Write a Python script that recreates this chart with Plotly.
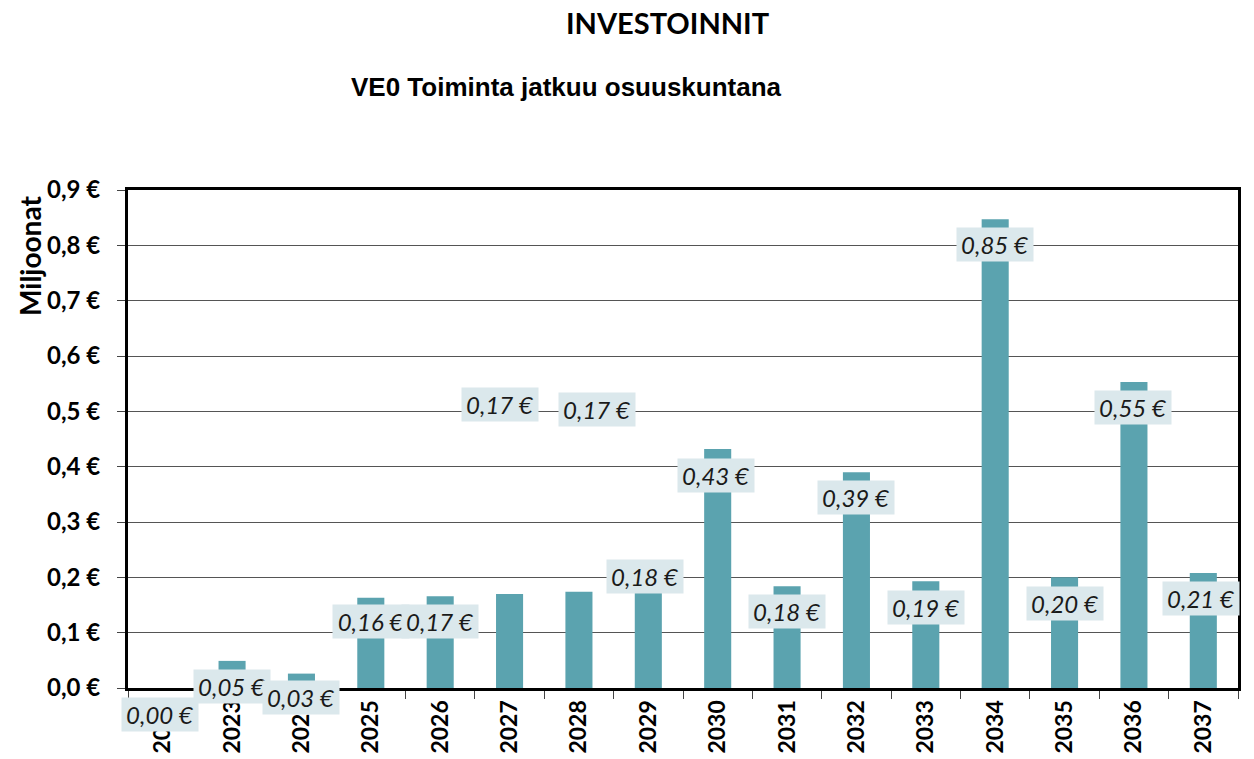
import plotly.graph_objects as go

years = ["2022", "2023", "2024", "2025", "2026", "2027", "2028", "2029",
         "2030", "2031", "2032", "2033", "2034", "2035", "2036", "2037"]
investments = [0.0, 0.049, 0.026, 0.163, 0.166, 0.170, 0.174, 0.178,
               0.432, 0.184, 0.390, 0.193, 0.847, 0.200, 0.553, 0.208]
# label offsets (pixels, up = positive) relative to the bar top, as placed in the original
label_dy = [-26, -26, -24, -24, -25, 189, 182, 13,
            -27, -25, -25, -26, -25, -26, -25, -26]
label_dx = [-3, 0, 0, 0, 0, -10, 18, -3, -2, 0, 0, 0, 0, 0, -1, -2]

y_ticks = [0.0, 0.1, 0.2, 0.3, 0.4, 0.5, 0.6, 0.7, 0.8, 0.9]
y_ticktext = [f"{v:.1f}".replace(".", ",") + " €" for v in y_ticks]

BAR = "#5ba3af"
LBL_BG = "#dbe8ec"

# page body has an 8px margin; figure is shrunk/offset to compensate
OFF = 8
PL, PT, PR, PB = 128, 190, 1238, 688  # plot area in screenshot pixels
W, H = 1254 - OFF, 759 - OFF

fig = go.Figure()
fig.add_trace(go.Bar(x=years, y=investments, marker=dict(color=BAR, line=dict(width=0)),
                     hoverinfo="x+y"))

for i, (v, dy, dx) in enumerate(zip(investments, label_dy, label_dx)):
    fig.add_annotation(
        x=i, y=v, xref="x", yref="y", yanchor="middle", xanchor="center",
        text=f"{v:.2f}".replace(".", ",") + " €",
        showarrow=False, yshift=dy, xshift=dx,
        font=dict(family="Lato", size=24, color="#1a1a1a", style="italic"),
        bgcolor=LBL_BG, width=74, height=31, borderpad=1,
    )

cx = (PL + PR) / 2
fig.add_annotation(text="<b>INVESTOINNIT</b>", xref="paper", yref="paper",
                   x=0.5, y=1, xanchor="center", yanchor="middle",
                   xshift=(667 - cx), yshift=(PT - 22), showarrow=False,
                   font=dict(family="Lato", size=29, color="black"))
fig.add_annotation(text="<b>VE0 Toiminta jatkuu osuuskuntana</b>", xref="paper", yref="paper",
                   x=0, y=1, xanchor="center", yanchor="middle",
                   xshift=(566 - PL), yshift=(PT - 87), showarrow=False,
                   font=dict(family="Liberation Sans", size=26, color="black"))
fig.add_annotation(text="<b>Miljoonat</b>", xref="paper", yref="paper",
                   x=0, y=1, xanchor="center", yanchor="middle", textangle=-90,
                   xshift=(30 - PL), yshift=(PT - 256), showarrow=False,
                   font=dict(family="Lato", size=28, color="black"))

fig.update_layout(
    width=W, height=H,
    margin=dict(l=PL - OFF, r=W - (PR - OFF), t=PT - OFF, b=H - (PB - OFF), autoexpand=False),
    paper_bgcolor="white", plot_bgcolor="white",
    showlegend=False, bargap=0.61,
    xaxis=dict(type="category", tickangle=-90, tickson="boundaries",
               range=[-0.5, len(years) - 0.5], automargin=False,
               ticks="outside", ticklen=8, tickcolor="#444", tickwidth=1,
               tickfont=dict(family="Lato", size=23, color="black", weight="bold"),
               showline=True, linecolor="black", linewidth=3, mirror=True,
               showgrid=False),
    yaxis=dict(range=[0, 0.9], tickvals=y_ticks, ticktext=y_ticktext, automargin=False,
               ticks="outside", ticklen=8, tickcolor="#444", tickwidth=1,
               ticklabelstandoff=12,
               tickfont=dict(family="Lato", size=24, color="black", weight="bold"),
               showline=True, linecolor="black", linewidth=3, mirror=True,
               showgrid=True, gridcolor="#555", gridwidth=1, zeroline=False),
)

fig.write_html("out.html")
